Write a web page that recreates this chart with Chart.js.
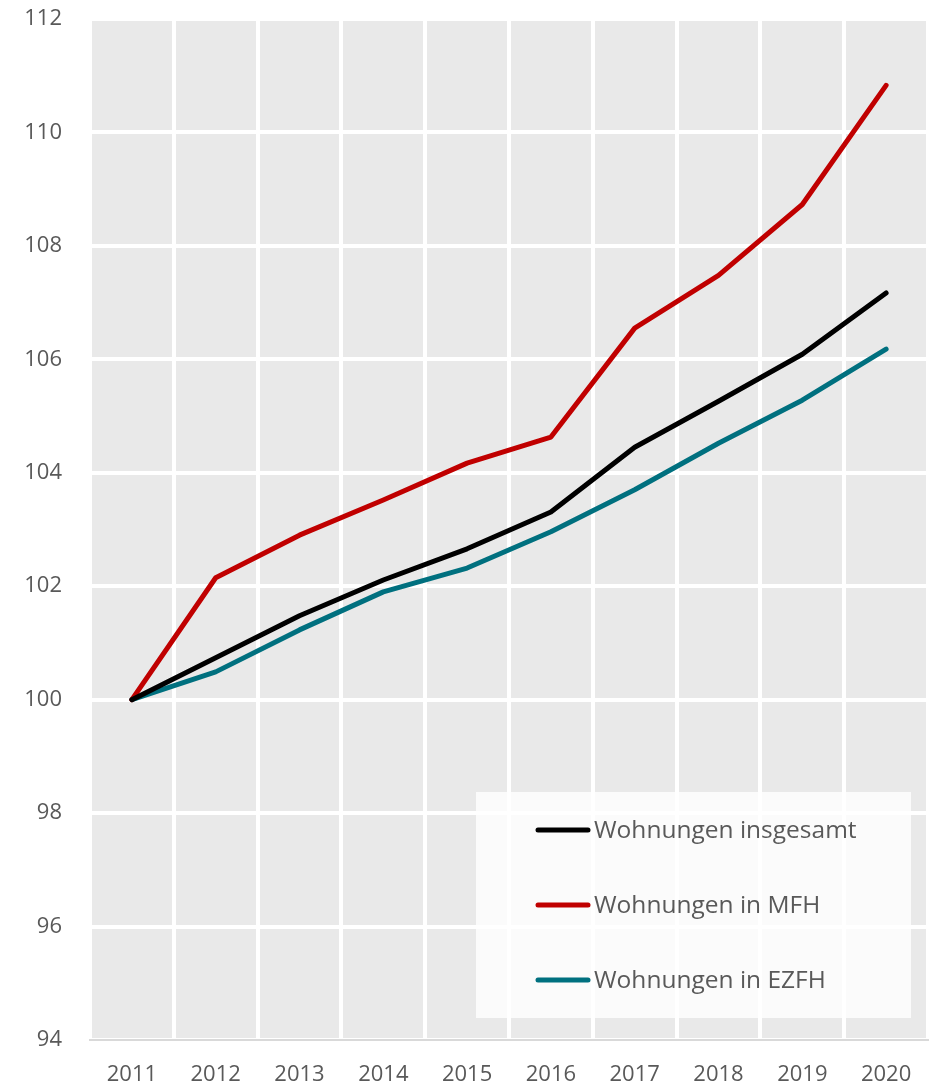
<!DOCTYPE html>
<html>
<head>
<meta charset="utf-8">
<script src="https://cdn.jsdelivr.net/npm/chart.js@4.4.0/dist/chart.umd.min.js"></script>
<style>
  html, body { margin: 0; padding: 0; background: #fff; }
  #wrap { position: relative; width: 929px; height: 1085px; }
</style>
</head>
<body>
<div id="wrap"><canvas id="mycanvas" width="929" height="1085"></canvas></div>
<script>
var years = ['2011', '2012', '2013', '2014', '2015', '2016', '2017', '2018', '2019', '2020'];
var insgesamt = [100, 100.74, 101.48, 102.11, 102.66, 103.31, 104.45, 105.26, 106.09, 107.17];
var mfh = [100, 102.15, 102.90, 103.52, 104.17, 104.63, 106.55, 107.48, 108.73, 110.83];
var ezfh = [100, 100.49, 101.23, 101.90, 102.32, 102.96, 103.70, 104.52, 105.28, 106.18];
var seriesNames = ['Wohnungen insgesamt', 'Wohnungen in MFH', 'Wohnungen in EZFH'];
var seriesColors = ['#000000', '#c00000', '#00707f'];

var fontFam = "'Open Sans', 'Noto Sans', sans-serif";
var textColor = '#595959';

// grey plot background
var plotBg = {
    id: 'plotBg',
    beforeDraw: function(chart) {
        var a = chart.chartArea, c = chart.ctx;
        c.save();
        c.fillStyle = '#e9e9e9';
        c.fillRect(a.left, a.top, a.right - a.left, a.bottom - a.top);
        c.restore();
    }
};

// legend box inside the plot, bottom right
var boxLegend = {
    id: 'boxLegend',
    afterDatasetsDraw: function(chart) {
        var c = chart.ctx;
        c.save();
        c.fillStyle = 'rgba(255,255,255,0.8)';
        c.fillRect(476, 792, 435, 226);
        c.font = '24.5px ' + fontFam;
        c.textBaseline = 'middle';
        for (var i = 0; i < seriesNames.length; i++) {
            var y = 830 + i * 75;
            c.strokeStyle = seriesColors[i];
            c.lineWidth = 5;
            c.lineCap = 'round';
            c.beginPath();
            c.moveTo(538, y);
            c.lineTo(588, y);
            c.stroke();
            c.fillStyle = textColor;
            c.fillText(seriesNames[i], 594, y + 1);
        }
        c.restore();
    }
};

var datasets = [insgesamt, mfh, ezfh].map(function(d, i) {
    return {
        label: seriesNames[i],
        data: d,
        borderColor: seriesColors[i],
        backgroundColor: seriesColors[i],
        borderWidth: 5,
        borderCapStyle: 'round',
        borderJoinStyle: 'round',
        pointRadius: 0,
        tension: 0
    };
});

var ctx = document.getElementById('mycanvas');
var lineGraph = new Chart(ctx, {
    type: 'line',
    data: { labels: years, datasets: datasets },
    options: {
        responsive: false,
        animation: false,
        layout: { padding: { top: 19, right: 1, left: 0, bottom: 0 } },
        plugins: { legend: { display: false }, tooltip: { enabled: false } },
        scales: {
            x: {
                offset: true,
                grid: { offset: true, color: '#ffffff', lineWidth: 4, drawTicks: true, tickLength: 22, tickColor: 'rgba(0,0,0,0)' },
                border: { display: true, color: '#d9d9d9', width: 2 },
                ticks: { color: textColor, font: { family: fontFam, size: 22 }, padding: 0 },
                afterFit: function(s) { s.height = 45; }
            },
            y: {
                min: 94,
                max: 112,
                grid: { color: '#ffffff', lineWidth: 4, drawTicks: true, tickLength: 28, tickColor: 'rgba(0,0,0,0)' },
                border: { display: false },
                ticks: { stepSize: 2, color: textColor, font: { family: fontFam, size: 22 }, padding: 0 },
                afterFit: function(s) { s.width = 90; }
            }
        }
    },
    plugins: [plotBg, boxLegend]
});
</script>
</body>
</html>
